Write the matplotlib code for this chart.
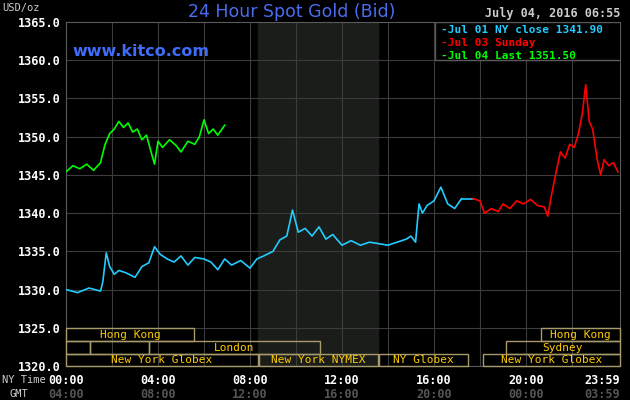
import matplotlib
matplotlib.use("Agg")
from matplotlib import pyplot as plt
from matplotlib.transforms import blended_transform_factory
from matplotlib.patches import Rectangle

# prices (hour of NY day, USD/oz)
jul01_h = [0, 0.5, 1.0, 1.5, 1.6, 1.75, 1.9, 2.1, 2.3, 2.6, 3.0, 3.3, 3.6, 3.85, 4.1, 4.4, 4.7, 5.0, 5.3, 5.6,
           6.0, 6.3, 6.6, 6.9, 7.2, 7.6, 8.0, 8.3, 8.6, 9.0, 9.3, 9.6, 9.85, 10.1, 10.4, 10.7, 11.0, 11.3, 11.6,
           12.0, 12.4, 12.8, 13.2, 13.6, 14.0, 14.4, 14.8, 15.0, 15.2, 15.35, 15.5, 15.7, 16.0, 16.3, 16.6, 16.9, 17.2]
jul01_p = [1330.0, 1329.6, 1330.2, 1329.8, 1331.0, 1334.8, 1333.0, 1332.0, 1332.5, 1332.2, 1331.6, 1333.0, 1333.5, 1335.6, 1334.6, 1334.0, 1333.6, 1334.4, 1333.2, 1334.2,
           1334.0, 1333.6, 1332.6, 1334.0, 1333.2, 1333.8, 1332.8, 1334.0, 1334.4, 1335.0, 1336.5, 1337.0, 1340.4, 1337.5, 1338.0, 1337.0, 1338.2, 1336.6, 1337.2,
           1335.8, 1336.4, 1335.8, 1336.2, 1336.0, 1335.8, 1336.2, 1336.6, 1337.0, 1336.2, 1341.2, 1340.0, 1341.0, 1341.6, 1343.4, 1341.2, 1340.6, 1341.9]
jul01_close = 1341.90

jul03_h = [17.0, 17.7, 18.0, 18.2, 18.5, 18.8, 19.0, 19.3, 19.6, 19.9, 20.2, 20.5, 20.8, 20.95, 21.1, 21.3, 21.5, 21.7,
           21.9, 22.1, 22.3, 22.45, 22.6, 22.75, 22.9, 23.1, 23.25, 23.4, 23.6, 23.8, 24.0]
jul03_p = [1341.9, 1341.9, 1341.6, 1340.0, 1340.6, 1340.2, 1341.2, 1340.6, 1341.6, 1341.2, 1341.8, 1341.0, 1340.8, 1339.6, 1342.2, 1345.2, 1348.0, 1347.2,
           1349.0, 1348.6, 1350.6, 1353.0, 1356.8, 1352.0, 1351.0, 1347.0, 1345.0, 1347.0, 1346.2, 1346.6, 1345.4]

jul04_h = [0, 0.3, 0.6, 0.9, 1.2, 1.5, 1.7, 1.9, 2.1, 2.3, 2.5, 2.7, 2.9, 3.1, 3.3, 3.5, 3.7, 3.85, 4.0, 4.2, 4.5,
           4.8, 5.0, 5.3, 5.6, 5.8, 6.0, 6.2, 6.4, 6.6, 6.9]
jul04_p = [1345.4, 1346.2, 1345.8, 1346.4, 1345.6, 1346.6, 1349.0, 1350.4, 1351.0, 1352.0, 1351.2, 1351.8, 1350.6, 1351.0, 1349.6, 1350.2, 1348.0, 1346.4, 1349.4, 1348.6, 1349.6,
           1348.8, 1348.0, 1349.4, 1349.0, 1350.0, 1352.2, 1350.4, 1351.0, 1350.2, 1351.5]

hour_ticks = [0, 4, 8, 12, 16, 20, 23.983]
ny_labels = ["00:00", "04:00", "08:00", "12:00", "16:00", "20:00", "23:59"]
gmt_labels = ["04:00", "08:00", "12:00", "16:00", "20:00", "00:00", "03:59"]
y_ticks = [1320, 1325, 1330, 1335, 1340, 1345, 1350, 1355, 1360, 1365]

# market sessions: (row, start hour, end hour, label)
sessions = [(0, 0, 5.57, "Hong Kong"), (0, 20.65, 24.1, "Hong Kong"),
            (1, 0, 1.04, ""), (1, 1.04, 3.6, ""), (1, 3.6, 11.04, "London"), (1, 19.13, 24.1, "Sydney"),
            (2, 0, 8.35, "New York Globex"), (2, 8.4, 13.56, "New York NYMEX"),
            (2, 13.6, 17.5, "NY Globex"), (2, 18.13, 24.1, "New York Globex")]
rows_y = [(1323.27, 1324.97), (1321.57, 1323.27), (1320.0, 1321.57)]

mono = "DejaVu Sans Mono"
fig = plt.figure(figsize=(6.3, 4.0), dpi=100, facecolor="black")
ax = fig.add_axes([66 / 630, 34 / 400, 554 / 630, 344 / 400], facecolor="black")
ax.set_xlim(0, 24.09)
ax.set_ylim(1320, 1365)
ax.axvspan(8.35, 13.56, color="#1a1d1a", zorder=0)
for h in range(2, 24, 2):
    ax.axvline(h, color="#3c3c3c", lw=0.8, zorder=1)
for y in y_ticks[1:-1]:
    ax.axhline(y, color="#3c3c3c", lw=0.8, zorder=1)
for s in ax.spines.values():
    s.set_color("#5a5a5a")
ax.set_xticks([])
ax.set_yticks(y_ticks)
ax.set_yticklabels(["%.1f" % v for v in y_ticks], color="white", family=mono,
                   fontweight="bold", fontsize=8.5)
ax.tick_params(axis="y", length=0, pad=4)

for row, h0, h1, lab in sessions:
    y0, y1 = rows_y[row]
    ax.add_patch(Rectangle((h0, y0), h1 - h0, y1 - y0, fill=False,
                           ec="#a89a6a", lw=1.0, zorder=3, clip_on=False))
    if lab:
        ax.text((h0 + min(h1, 24.09)) / 2, (y0 + y1) / 2, lab, color="#ffcc00",
                family=mono, fontsize=8, ha="center", va="center", zorder=4)

ax.plot(jul01_h, jul01_p, color="#22ccff", lw=1.2, zorder=5)
ax.plot([17.2, 17.7], [jul01_close, jul01_close], color="#22ccff", lw=1.2, zorder=5)
ax.plot(jul03_h[1:], jul03_p[1:], color="#ff0000", lw=1.2, zorder=5)
ax.plot(jul04_h, jul04_p, color="#00ff00", lw=1.2, zorder=6)

# legend box
leg = Rectangle((16.05, 1360), 8.1, 5, fc="black", ec="#5a5a5a", lw=1, zorder=7)
ax.add_patch(leg)
for i, (txt, col) in enumerate([("-Jul 01 NY close 1341.90", "#22ccff"),
                                ("-Jul 03 Sunday", "#ff0000"),
                                ("-Jul 04 Last 1351.50", "#00ff00")]):
    ax.text(16.3, 1363.9 - i * 1.65, txt, color=col, family=mono, fontweight="bold",
            fontsize=8, va="center", zorder=8)

trans = blended_transform_factory(ax.transData, fig.transFigure)
for h, ny, gmt in zip(hour_ticks, ny_labels, gmt_labels):
    ha = "right" if ny == "23:59" else "center"
    xx = 24.1 if ny == "23:59" else h
    ax.text(xx, 20 / 400, ny, transform=trans, color="white", family=mono,
            fontweight="bold", fontsize=8.5, ha=ha, va="center")
    ax.text(xx, 6 / 400, gmt, transform=trans, color="#555555", family=mono,
            fontweight="bold", fontsize=8.5, ha=ha, va="center")
fig.text(2 / 630, 20 / 400, "NY Time", color="#cccccc", family=mono, fontsize=7.5, va="center")
fig.text(10 / 630, 6 / 400, "GMT", color="#cccccc", family=mono, fontsize=7.5, va="center")

fig.text(2 / 630, 392 / 400, "USD/oz", color="#cccccc", family=mono, fontsize=7.5, va="center")
fig.text(292 / 630, 388 / 400, "24 Hour Spot Gold (Bid)", color="#4a6cf0", fontsize=12.5,
         ha="center", va="center")
fig.text(620 / 630, 386 / 400, "July 04, 2016 06:55", color="#cccccc", family=mono,
         fontweight="bold", fontsize=8.5, ha="right", va="center")
ax.text(0.3, 1361.2, "www.kitco.com", color="#3f6cf8", fontsize=11.5, fontweight="bold",
        va="center", zorder=8)

fig.savefig("out.png", dpi=100, facecolor="black")
